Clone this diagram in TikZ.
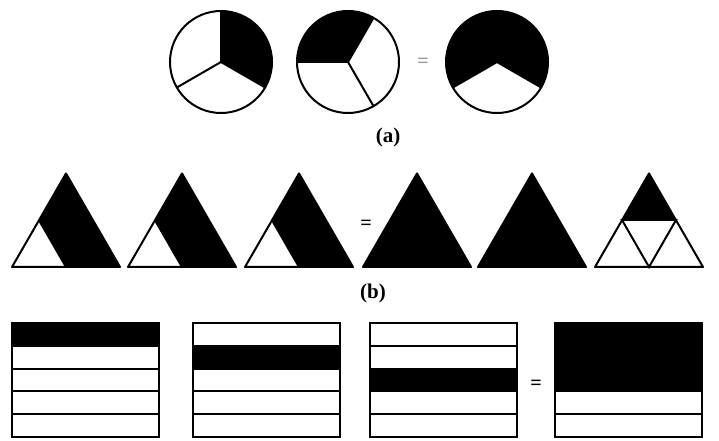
\documentclass[tikz,border=0pt]{standalone}
\usepackage{fontspec}
\setmainfont{Liberation Serif}
\def\pieR{51}
\def\pieY{379}
\def\triBase{174}
\newcommand{\pieFill}[3]{\fill (#1,\pieY) -- ++(#2:\pieR) arc (#2:#3:\pieR) -- cycle;}
\newcommand{\pieSpokes}[2]{\foreach \a in {#2} \draw (#1,\pieY) -- ++(\a:\pieR);
  \draw (#1,\pieY) circle (\pieR);}
\newcommand{\triOutline}[1]{(#1,\triBase) -- ++(108,0) -- ++(120:108) -- cycle}
\newcommand{\triCorner}[1]{\fill \triOutline{#1}; \fill[white] (#1,\triBase) -- ++(54,0) -- ++(120:54) -- cycle;
  \draw (#1,\triBase) ++(54,0) -- ++(120:54);}
\newcommand{\strips}[3]{\fill (#1,{118-22.8*(#2-1)}) rectangle ++(147,{-22.8*(#3-#2+1)});
  \draw (#1,4) rectangle ++(147,114);
  \foreach \k in {1,...,4} \draw (#1,{4+22.8*\k}) -- ++(147,0);}

\begin{document}
\begin{tikzpicture}[x=1pt,y=1pt,line width=2pt,
  caption/.style={font=\fontsize{21}{24}\selectfont\bfseries},
  equals/.style={font=\fontsize{20}{22}\selectfont\bfseries}]
\useasboundingbox (0,0) rectangle (719,441);
% (a): circles
\pieFill{221}{-30}{90}
\pieSpokes{221}{90,210,330}
\pieFill{348}{60}{180}
\pieSpokes{348}{60,180,300}
\pieFill{497}{-30}{210}
\pieSpokes{497}{210,330}
\node[equals,text=black!40] (eqa) at (423,378) {=};
\node[caption] (capa) at (388,304) {(a)};
% (b): triangles
\triCorner{12}
\triCorner{128}
\triCorner{245}
\fill \triOutline{363};
\fill \triOutline{478};
\fill (622,221) -- ++(54,0) -- ++(120:54) -- cycle;
\draw (622,221) -- ++(54,0) -- (649,\triBase) -- cycle;
% outline:
\foreach \l in {12,128,245,363,478,595}
  \draw[line join=round] \triOutline{\l};
\node[equals] (eqb) at (366,216) {=};
\node[caption] (capb) at (373,148) {(b)};
% (c): strips
\strips{12}{1}{1}
\strips{193}{2}{2}
\strips{370}{3}{3}
\strips{555}{1}{3}
\node[equals] (eqc) at (536,56) {=};
\end{tikzpicture}
\end{document}
